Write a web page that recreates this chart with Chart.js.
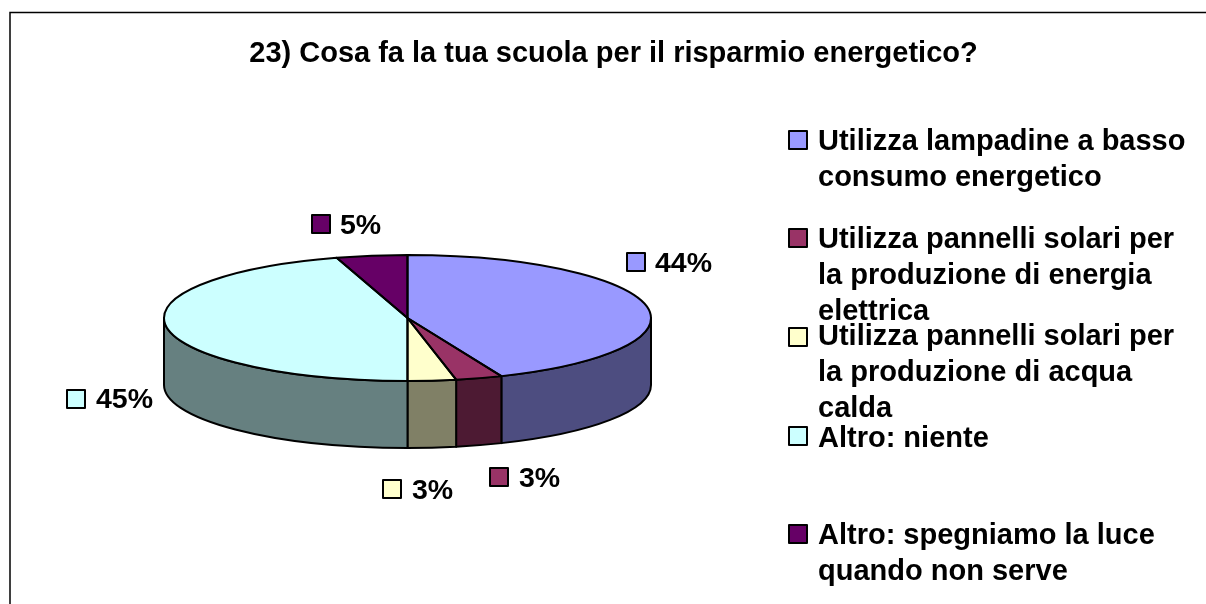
<!DOCTYPE html>
<html>
<head>
<meta charset="utf-8">
<style>html,body{margin:0;padding:0;background:#fff;overflow:hidden}canvas{display:block}</style>
<script src="https://cdn.jsdelivr.net/npm/chart.js@4"></script>
</head>
<body>
<canvas id="c" width="1206" height="604"></canvas>
<script>
const titleText = '23) Cosa fa la tua scuola per il risparmio energetico?';
const categories = [
  ['Utilizza lampadine a basso', 'consumo energetico'],
  ['Utilizza pannelli solari per', 'la produzione di energia', 'elettrica'],
  ['Utilizza pannelli solari per', 'la produzione di acqua', 'calda'],
  ['Altro: niente'],
  ['Altro: spegniamo la luce', 'quando non serve']
];
const values = [43.7, 3.1, 3.2, 45.3, 4.7];
const colors = ['#9999FF', '#993366', '#FFFFCC', '#CCFFFF', '#660066'];

// layout, kept apart from the data
const FONT = '"Liberation Sans", Arial, sans-serif';
const pieCenterY = 318, pieRy = 63, pieDepth = 67;
const legendSwatchTops = [131, 229, 328, 427, 525];
const legendFirstBaselines = [150, 248, 345, 447, 544];
const labelSpots = [
  {sx: 627, sy: 253, tx: 655, by: 272},
  {sx: 490, sy: 468, tx: 519, by: 487},
  {sx: 383, sy: 480, tx: 412, by: 499},
  {sx: 67,  sy: 390, tx: 96,  by: 408},
  {sx: 312, sy: 215, tx: 340, by: 234}
];

function shade(hex) {
  const n = parseInt(hex.slice(1), 16);
  const h = v => Math.round(v / 2);
  return `rgb(${h(n >> 16 & 255)},${h(n >> 8 & 255)},${h(n & 255)})`;
}

const pie3d = {
  id: 'pie3d',
  beforeDraw(chart) {
    const c = chart.ctx;
    c.save();
    c.fillStyle = '#fff';
    c.fillRect(0, 0, chart.width, chart.height);
    c.strokeStyle = '#000';
    c.lineWidth = 1.5;
    c.strokeRect(10, 12.5, 1300, 700);
    c.fillStyle = '#000';
    c.textBaseline = 'alphabetic';
    c.textAlign = 'center';
    c.font = 'bold 29px ' + FONT;
    c.fillText(titleText, 613.5, 62);
    c.restore();
  },
  beforeDatasetsDraw(chart) {
    const c = chart.ctx, arcs = chart.getDatasetMeta(0).data;
    c.save();
    c.lineWidth = 2;
    c.strokeStyle = '#000';
    c.lineJoin = 'round';
    arcs.forEach((a, i) => {
      const s = Math.max(a.startAngle, 0), e = Math.min(a.endAngle, Math.PI);
      if (e <= s) return;
      c.beginPath();
      c.ellipse(a.x, pieCenterY, a.outerRadius, pieRy, 0, s, e);
      c.ellipse(a.x, pieCenterY + pieDepth, a.outerRadius, pieRy, 0, e, s, true);
      c.closePath();
      c.fillStyle = shade(colors[i]);
      c.fill();
      c.stroke();
    });
    c.restore();
    c.save();
    const a0 = arcs[0];
    c.translate(0, pieCenterY);
    c.scale(1, pieRy / a0.outerRadius);
    c.translate(0, -a0.y);
  },
  afterDatasetsDraw(chart) {
    const c = chart.ctx, arcs = chart.getDatasetMeta(0).data;
    c.restore();
    c.save();
    c.lineWidth = 2;
    c.strokeStyle = '#000';
    c.lineJoin = 'round';
    arcs.forEach(a => {
      c.beginPath();
      c.moveTo(a.x, pieCenterY);
      c.ellipse(a.x, pieCenterY, a.outerRadius, pieRy, 0, a.startAngle, a.endAngle);
      c.closePath();
      c.stroke();
    });
    // percentage labels and legend
    c.textBaseline = 'alphabetic';
    c.textAlign = 'left';
    const total = values.reduce((p, v) => p + v, 0);
    const swatch = (x, y, col) => {
      c.fillStyle = col;
      c.fillRect(x, y, 18, 18);
      c.lineWidth = 2;
      c.strokeRect(x, y, 18, 18);
    };
    c.font = 'bold 28.5px ' + FONT;
    values.forEach((v, i) => {
      const p = labelSpots[i];
      swatch(p.sx, p.sy, colors[i]);
      c.fillStyle = '#000';
      c.fillText(Math.round(v / total * 100) + '%', p.tx, p.by);
    });
    c.font = 'bold 29px ' + FONT;
    categories.forEach((lines, i) => {
      swatch(789, legendSwatchTops[i], colors[i]);
      c.fillStyle = '#000';
      lines.forEach((t, j) => c.fillText(t, 818, legendFirstBaselines[i] + j * 36));
    });
    c.restore();
  }
};

new Chart(document.getElementById('c'), {
  type: 'pie',
  data: {
    labels: categories,
    datasets: [{data: values, backgroundColor: colors, borderWidth: 0, hoverOffset: 0}]
  },
  options: {
    responsive: false,
    animation: false,
    layout: {padding: {left: 164, right: 555, top: 58, bottom: 59}},
    plugins: {legend: {display: false}, title: {display: false}, tooltip: {enabled: false}}
  },
  plugins: [pie3d]
});
</script>
</body>
</html>
